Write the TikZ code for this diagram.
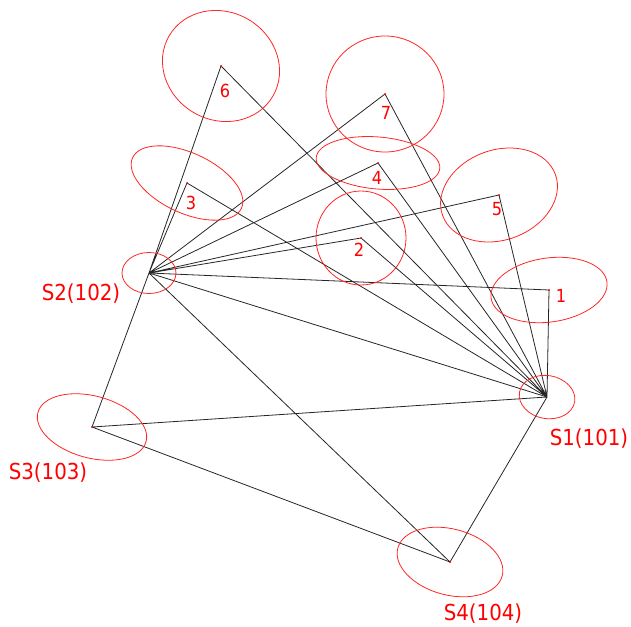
\documentclass[tikz,border=0pt]{standalone}
\usepackage{fontspec}
\setmainfont{DejaVu Sans}[FakeStretch=0.9]

\definecolor{errred}{rgb}{1,0,0}
\tikzset{
  link/.style={draw=black!85, line width=0.8pt},
  errell/.style={draw=errred!85, line width=0.8pt},
  ptlabel/.style={text=errred, font=\fontsize{18}{20}\selectfont, inner sep=0pt},
  stlabel/.style={text=errred, font=\fontsize{22}{24}\selectfont, inner sep=0pt},
}

\begin{document}
\begin{tikzpicture}[x=1pt,y=-1pt]
			\useasboundingbox (0,0) rectangle (631,626);
			%Stations
			\coordinate (S1) at (547,397);
			\coordinate (S2) at (149,273);
			\coordinate (S3) at (92,427);
			\coordinate (S4) at (450,562);
			%Target points
			\coordinate (P1) at (549,290);
			\coordinate (P2) at (361,238);
			\coordinate (P3) at (187,183);
			\coordinate (P4) at (378,163);
			\coordinate (P5) at (499,195);
			\coordinate (P6) at (221,66);
			\coordinate (P7) at (385,94);
			%Sightings from S2
			\draw[link] (S2) -- (P6) (S2) -- (P3) (S2) -- (P7) (S2) -- (P4)
				(S2) -- (P5) (S2) -- (P2) (S2) -- (P1);
			%Sightings from S1
			\draw[link] (S1) -- (P1) (S1) -- (P5) (S1) -- (P7) (S1) -- (P4)
				(S1) -- (P6) (S1) -- (P3) (S1) -- (P2);
			%Station network
			\draw[link] (S2) -- (S1) (S2) -- (S3) (S2) -- (S4);
			\draw[link] (S3) -- (S1) (S3) -- (S4) (S4) -- (S1);
			%Error ellipses
			\draw[errell, rotate around={-30:(P6)}] (P6) ellipse [x radius=60pt, y radius=54pt];
			\draw[errell, rotate around={-25:(P3)}] (P3) ellipse [x radius=60pt, y radius=30pt];
			\draw[errell] (P7) ellipse [x radius=59pt, y radius=58pt];
			\draw[errell, rotate around={-5:(P4)}] (P4) ellipse [x radius=62pt, y radius=26pt];
			\draw[errell] (P2) ellipse [x radius=45pt, y radius=47pt];
			\draw[errell, rotate around={20:(P5)}] (P5) ellipse [x radius=60pt, y radius=45pt];
			\draw[errell, rotate around={8:(P1)}] (P1) ellipse [x radius=58.5pt, y radius=32pt];
			\draw[errell, rotate around={-10:(S1)}] (S1) ellipse [x radius=28pt, y radius=21.5pt];
			\draw[errell] (S2) ellipse [x radius=27pt, y radius=20.5pt];
			\draw[errell, rotate around={-15:(S3)}] (S3) ellipse [x radius=56pt, y radius=31pt];
			\draw[errell, rotate around={-15:(S4)}] (S4) ellipse [x radius=54pt, y radius=33pt];
			\fill[errred] (P1) circle (1pt) (P2) circle (1pt) (P3) circle (1pt) (P4) circle (1pt)
				(P5) circle (1pt) (P6) circle (1pt) (P7) circle (1pt) (S3) circle (1pt) (S4) circle (1pt);
			%Labels
			\node[ptlabel] (L1) at (561,296) {1};
			\node[ptlabel] (L2) at (359,250) {2};
			\node[ptlabel] (L3) at (191,203) {3};
			\node[ptlabel] (L4) at (377,178) {4};
			\node[ptlabel] (L5) at (497,209) {5};
			\node[ptlabel] (L6) at (225,91) {6};
			\node[ptlabel] (L7) at (386,113) {7};
			\node[stlabel] (LS1) at (589,439) {S1(101)};
			\node[stlabel] (LS2) at (81,294) {S2(102)};
			\node[stlabel] (LS3) at (48,473) {S3(103)};
			\node[stlabel] (LS4) at (483,614) {S4(104)};
		\end{tikzpicture}
\end{document}
